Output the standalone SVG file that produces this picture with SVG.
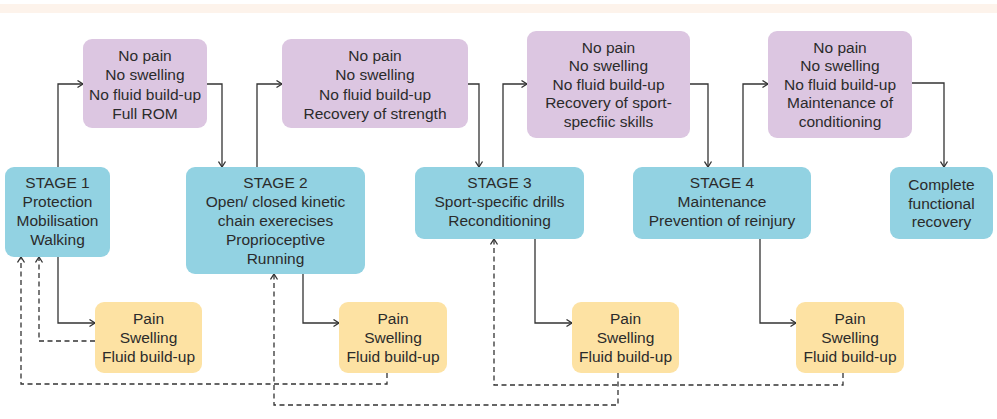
<svg xmlns="http://www.w3.org/2000/svg" width="997" height="419" viewBox="0 0 997 419">
<defs>
<marker id="ah" markerWidth="9" markerHeight="9" refX="7" refY="4.5" orient="auto" markerUnits="userSpaceOnUse">
<path d="M1.5,1 L7,4.5 L1.5,8" fill="none" stroke="#333" stroke-width="1.3"/>
</marker>
<style>
.t{font-family:"Liberation Sans",Arial,sans-serif;font-size:15.5px;fill:#2b2b2b;text-anchor:middle}
.p{fill:#dcc6e1}
.b{fill:#92d2e2}
.o{fill:#fde2a3}
.c{fill:none;stroke:#333;stroke-width:1.3}
.d{fill:none;stroke:#333;stroke-width:1.3;stroke-dasharray:5 3.5}
</style>
</defs>
<rect width="997" height="419" fill="#ffffff"/>
<rect x="0" y="4" width="997" height="9" fill="#fdf3eb"/>

<g id="connectors">
<path class="c" d="M58,167 V84 H83" marker-end="url(#ah)"/>
<path class="c" d="M207,84 H222 V167" marker-end="url(#ah)"/>
<path class="c" d="M257,167 V84 H282" marker-end="url(#ah)"/>
<path class="c" d="M468,84 H479 V167" marker-end="url(#ah)"/>
<path class="c" d="M503,167 V84 H527" marker-end="url(#ah)"/>
<path class="c" d="M690,84 H708 V167" marker-end="url(#ah)"/>
<path class="c" d="M743,167 V84 H768" marker-end="url(#ah)"/>
<path class="c" d="M912,83 H944 V167" marker-end="url(#ah)"/>
<path class="c" d="M58,257 V323 H95" marker-end="url(#ah)"/>
<path class="c" d="M303,274 V323 H339" marker-end="url(#ah)"/>
<path class="c" d="M535,239 V323 H572" marker-end="url(#ah)"/>
<path class="c" d="M760,239 V323 H796" marker-end="url(#ah)"/>
<path class="d" d="M95,341 H39 V257" marker-end="url(#ah)"/>
<path class="d" d="M387,373 V384 H21 V257" marker-end="url(#ah)"/>
<path class="d" d="M618,373 V405 H274 V274" marker-end="url(#ah)"/>
<path class="d" d="M843,373 V385 H494 V239" marker-end="url(#ah)"/>
</g>

<g id="p1"><rect class="p" x="83" y="39" width="124" height="89" rx="9"/>
<text class="t"><tspan x="145" y="60.5">No pain</tspan><tspan x="145" y="80">No swelling</tspan><tspan x="145" y="99.5">No fluid build-up</tspan><tspan x="145" y="118.5">Full ROM</tspan></text></g>
<g id="p2"><rect class="p" x="282" y="39" width="186" height="89" rx="9"/>
<text class="t"><tspan x="375" y="60.5">No pain</tspan><tspan x="375" y="80">No swelling</tspan><tspan x="375" y="99.5">No fluid build-up</tspan><tspan x="375" y="118.5">Recovery of strength</tspan></text></g>
<g id="p3"><rect class="p" x="527" y="31" width="163" height="107" rx="9"/>
<text class="t"><tspan x="608.5" y="52.5">No pain</tspan><tspan x="608.5" y="71">No swelling</tspan><tspan x="608.5" y="89.5">No fluid build-up</tspan><tspan x="608.5" y="108">Recovery of sport-</tspan><tspan x="608.5" y="127">specfiic skills</tspan></text></g>
<g id="p4"><rect class="p" x="768" y="31" width="144" height="107" rx="9"/>
<text class="t"><tspan x="840" y="52.5">No pain</tspan><tspan x="840" y="71">No swelling</tspan><tspan x="840" y="89.5">No fluid build-up</tspan><tspan x="840" y="108">Maintenance of</tspan><tspan x="840" y="127">conditioning</tspan></text></g>

<g id="s1"><rect class="b" x="5" y="167" width="105" height="90" rx="9"/>
<text class="t"><tspan x="57.5" y="187.5">STAGE 1</tspan><tspan x="57.5" y="207">Protection</tspan><tspan x="57.5" y="226">Mobilisation</tspan><tspan x="57.5" y="244.5">Walking</tspan></text></g>
<g id="s2"><rect class="b" x="186" y="167" width="179" height="107" rx="9"/>
<text class="t"><tspan x="275.5" y="187.5">STAGE 2</tspan><tspan x="275.5" y="207">Open/ closed kinetic</tspan><tspan x="275.5" y="226">chain exerecises</tspan><tspan x="275.5" y="245">Proprioceptive</tspan><tspan x="275.5" y="263.5">Running</tspan></text></g>
<g id="s3"><rect class="b" x="415" y="167" width="169" height="72" rx="9"/>
<text class="t"><tspan x="499.5" y="187.5">STAGE 3</tspan><tspan x="499.5" y="207">Sport-specific drills</tspan><tspan x="499.5" y="226">Reconditioning</tspan></text></g>
<g id="s4"><rect class="b" x="633" y="167" width="178" height="72" rx="9"/>
<text class="t"><tspan x="722" y="187.5">STAGE 4</tspan><tspan x="722" y="207">Maintenance</tspan><tspan x="722" y="226">Prevention of reinjury</tspan></text></g>
<g id="done"><rect class="b" x="890" y="167" width="103" height="72" rx="9"/>
<text class="t"><tspan x="941.5" y="190">Complete</tspan><tspan x="941.5" y="208.5">functional</tspan><tspan x="941.5" y="227">recovery</tspan></text></g>

<g id="o1"><rect class="o" x="95" y="302" width="107" height="71" rx="9"/>
<text class="t"><tspan x="148.5" y="323.5">Pain</tspan><tspan x="148.5" y="342.5">Swelling</tspan><tspan x="148.5" y="362">Fluid build-up</tspan></text></g>
<g id="o2"><rect class="o" x="339" y="302" width="108" height="71" rx="9"/>
<text class="t"><tspan x="393" y="323.5">Pain</tspan><tspan x="393" y="342.5">Swelling</tspan><tspan x="393" y="362">Fluid build-up</tspan></text></g>
<g id="o3"><rect class="o" x="572" y="302" width="107" height="71" rx="9"/>
<text class="t"><tspan x="625.5" y="323.5">Pain</tspan><tspan x="625.5" y="342.5">Swelling</tspan><tspan x="625.5" y="362">Fluid build-up</tspan></text></g>
<g id="o4"><rect class="o" x="796" y="302" width="108" height="71" rx="9"/>
<text class="t"><tspan x="850" y="323.5">Pain</tspan><tspan x="850" y="342.5">Swelling</tspan><tspan x="850" y="362">Fluid build-up</tspan></text></g>
</svg>
